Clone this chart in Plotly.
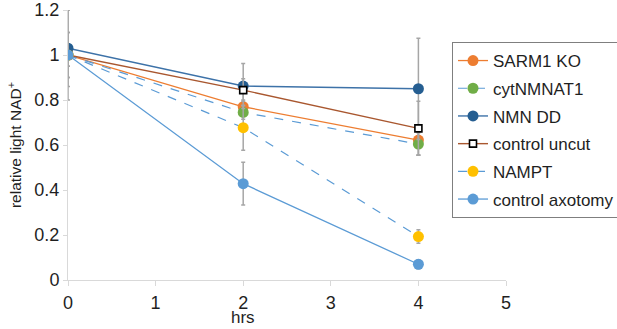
import plotly.graph_objects as go

hours = [0, 2, 4]

series_names = ["SARM1 KO", "cytNMNAT1", "NMN DD", "control uncut", "NAMPT", "control axotomy"]
sarm1_ko = [1.0, 0.77, 0.622]
cytnmnat1 = [1.0, 0.745, 0.604]
nmn_dd = [1.03, 0.862, 0.85]
control_uncut = [1.0, 0.844, 0.674]
nampt = [1.0, 0.677, 0.193]
control_axotomy = [1.0, 0.428, 0.07]

sarm1_ko_err = [0.05, 0.03, 0.066]
cytnmnat1_err = [0.05, 0.03, 0.05]
nmn_dd_err = [0.17, 0.10, 0.225]
control_uncut_err = [0.10, 0.05, 0.12]
nampt_err = [0.10, 0.10, 0.03]
control_axotomy_err = [0.20, 0.095, 0.02]

values = [sarm1_ko, cytnmnat1, nmn_dd, control_uncut, nampt, control_axotomy]
errors = [sarm1_ko_err, cytnmnat1_err, nmn_dd_err, control_uncut_err, nampt_err, control_axotomy_err]

styles = [
    dict(line=dict(color="#ED7D31", width=1.3), marker=dict(color="#ED7D31", size=11, symbol="circle")),
    dict(line=dict(color="#5B9BD5", width=1.2, dash="dash"), marker=dict(color="#70AD47", size=11, symbol="circle")),
    dict(line=dict(color="#3D72A8", width=1.4), marker=dict(color="#255E91", size=11, symbol="circle")),
    dict(line=dict(color="#A9572F", width=1.4), marker=dict(color="white", size=7, symbol="square",
                                                              line=dict(color="black", width=1.6))),
    dict(line=dict(color="#5B9BD5", width=1.2, dash="dash"), marker=dict(color="#FFC000", size=11, symbol="circle")),
    dict(line=dict(color="#5B9BD5", width=1.3), marker=dict(color="#5B9BD5", size=11, symbol="circle")),
]

fig = go.Figure()
for i, (name, vals, errs, st) in enumerate(zip(series_names, values, errors, styles)):
    fig.add_trace(go.Scatter(
        x=hours, y=vals, name=name, mode="lines+markers",
        line=st["line"], marker=st["marker"],
        legendgroup=f"g{i}",
        error_y=dict(type="data", array=errs, visible=True, color="#A6A6A6", thickness=1.5, width=2),
    ))

fig.update_layout(
    width=617, height=329,
    margin=dict(l=68, r=111, t=10, b=49, autoexpand=False),
    paper_bgcolor="white", plot_bgcolor="white",
    font=dict(family="Liberation Sans, Arial, sans-serif", color="#1f1f1f"),
    showlegend=True,
    legend=dict(
        x=(452 - 68) / 438, y=(280 - 42) / 270, xanchor="left", yanchor="top",
        xref="paper", yref="paper",
        bordercolor="#7F7F7F", borderwidth=1, bgcolor="white",
        font=dict(size=17, color="#1f1f1f"),
        itemwidth=30, tracegroupgap=2.6,
    ),
    xaxis=dict(
        range=[0, 5], dtick=1, showgrid=False, zeroline=False, automargin=False,
        showline=True, linecolor="#D9D9D9", linewidth=1,
        ticks="outside", ticklen=5, tickcolor="#D9D9D9",
        tickfont=dict(size=18), ticklabelstandoff=1,
    ),
    yaxis=dict(
        range=[0, 1.2], dtick=0.2, showgrid=False, zeroline=False, automargin=False,
        showline=True, linecolor="#D9D9D9", linewidth=1,
        ticks="outside", ticklen=4, tickcolor="#D9D9D9",
        tickfont=dict(size=18),
        title=dict(text="relative light NAD<sup>+</sup>", font=dict(size=15.5), standoff=8),
    ),
    annotations=[dict(
        text="hrs", x=2, xref="x", y=-(329 - 280) / 270, yref="paper",
        xanchor="center", yanchor="bottom", showarrow=False, font=dict(size=17),
    )],
)

fig.write_html("out.html", config={"displayModeBar": False},
               post_script="document.body.style.margin='0';")
